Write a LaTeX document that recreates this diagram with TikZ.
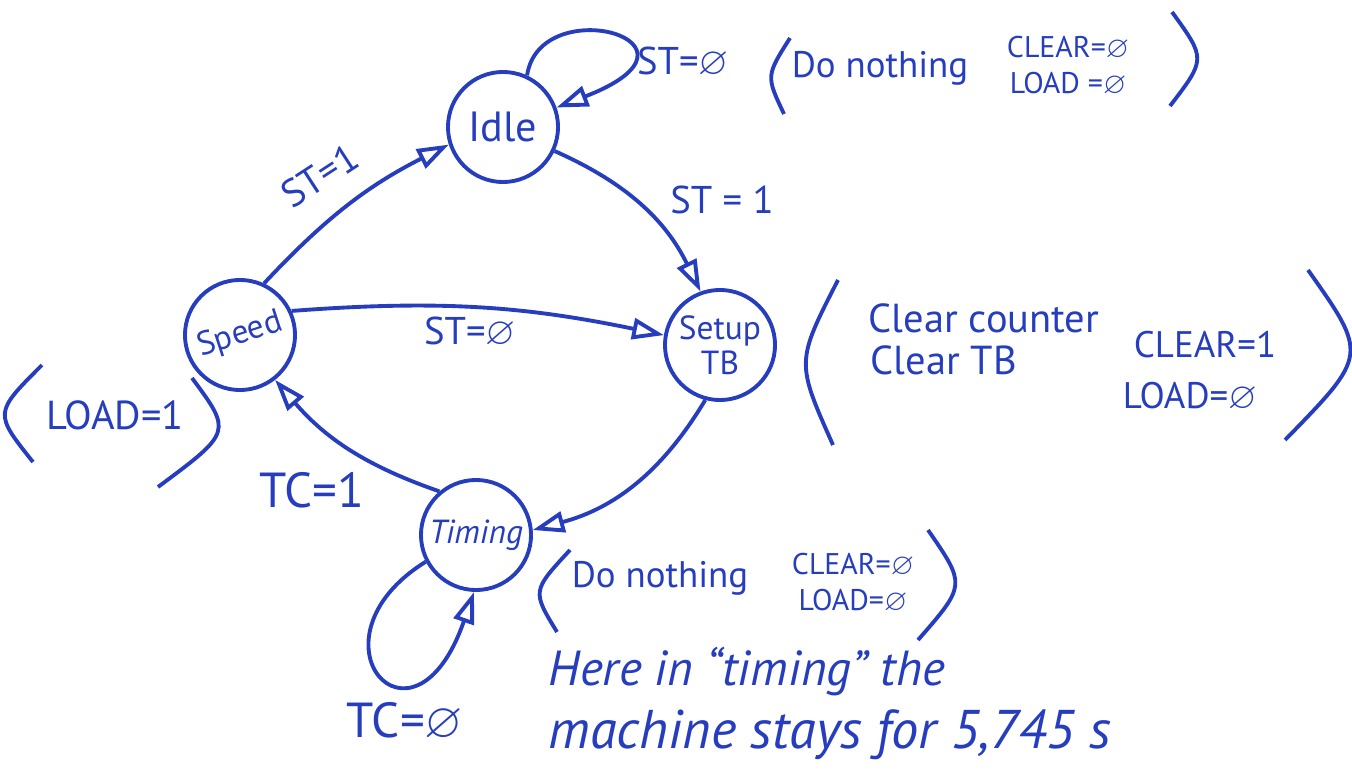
\documentclass[tikz,border=0pt]{standalone}
\usepackage{amssymb}
\usepackage{graphicx}
\usepackage{fontspec}
\setmainfont{PT Sans}
\usetikzlibrary{arrows.meta}
\definecolor{ink}{RGB}{38,62,190}
\newcommand{\nil}{$\varnothing$}

\begin{document}
\begin{tikzpicture}[x=0.01cm,y=0.01cm,ink,line width=1.1pt,
    state/.style={draw=ink,circle,minimum size=1.1cm,inner sep=0pt,text=ink,
      font=\fontsize{9.5}{10}\selectfont},
    trans/.style={-{Triangle[open,length=9pt,width=6pt]}},
    lbl/.style={text=ink,font=\fontsize{11}{13}\selectfont},
    big/.style={text=ink,font=\fontsize{14}{16}\selectfont},
    small/.style={text=ink,font=\fontsize{8.5}{10}\selectfont,align=center},
    note/.style={text=ink,font=\fontsize{10.5}{12}\selectfont}]
                \useasboundingbox (0,0) rectangle (1352,-776);

                % States
                \node[state,font=\fontsize{12}{14}\selectfont] (idle) at (503,-127) {Idle};
                \node[state] (speed) at (240,-335) {\rotatebox{18}{Speed}};
                \node[state,align=center] (setup) at (720,-345) {Setup\\TB};
                \node[state] (timing) at (476,-535) {\itshape Timing};

                % Transitions
                \draw[trans] (speed.65) to[bend left=10] (idle.198);
                \draw[trans] (idle.-25) to[bend left=20] (setup.110);
                \draw[trans] (speed.25) to[bend left=8] (setup.170);
                \draw[trans] (setup.255) to[bend left=22] (timing.5);
                \draw[trans] (timing.130) to[bend left=15] (speed.-52);

                % Self loops
                \draw[trans] (idle.65) .. controls (540,10) and (726,-42) .. (idle.20);
                \draw[trans] (timing.208) .. controls (300,-640) and (413,-768) .. (timing.268);

                % Transition labels
                \node[lbl,rotate=33] (st1a) at (320,-176) {ST=1};
                \node[lbl] (st1b) at (722,-200) {ST = 1};
                \node[lbl] (st0a) at (470,-332) {ST=\nil};
                \node[lbl] (st0b) at (683,-62) {ST=\nil};
                \node[big] (tc1) at (312,-490) {TC=1};
                \node[big] (tc0) at (405,-722) {TC=\nil};

                % Outputs of Idle
                \node[note] (idledo) at (880,-68) {Do nothing};
                \node[small] (idleout) at (1068,-66) {CLEAR=\nil\\LOAD =\nil};
                \draw (790,-38) .. controls (766,-76) .. (784,-114);
                \draw (1172,-12) .. controls (1206,-59) .. (1170,-106);

                % Outputs of Setup TB
                \node[note,font=\fontsize{11.5}{14}\selectfont,anchor=west] (clrcnt) at (855,-318) {Clear counter};
                \node[note,font=\fontsize{11.5}{14}\selectfont,anchor=west] (clrtb) at (857,-360) {Clear TB};
                \node[note] (setclr) at (1205,-345) {CLEAR=1};
                \node[note] (setld) at (1190,-397) {LOAD=\nil};
                \draw (838,-280) .. controls (796,-362) .. (833,-445);
                \draw (1308,-270) .. controls (1368,-355) .. (1285,-440);

                % Output of Speed
                \node[note,font=\fontsize{11.5}{13}\selectfont] (spdld) at (115,-415) {LOAD=1};
                \draw (42,-365) .. controls (-6,-413) .. (33,-462);
                \draw (192,-378) .. controls (232,-432) .. (158,-487);

                % Outputs of Timing
                \node[note] (timdo) at (660,-578) {Do nothing};
                \node[small] (timout) at (853,-583) {CLEAR=\nil\\LOAD=\nil};
                \draw (570,-550) .. controls (532,-591) .. (557,-632);
                \draw (928,-530) .. controls (966,-585) .. (918,-640);

                % Remark
                \node[big,font=\fontsize{14}{16}\selectfont\itshape,anchor=west] (rem1) at (535,-672) {Here in “timing” the};
                \node[big,font=\fontsize{15.5}{18}\selectfont\itshape,anchor=west] (rem2) at (535,-735) {machine stays for 5,745 s};
\end{tikzpicture}
\end{document}
